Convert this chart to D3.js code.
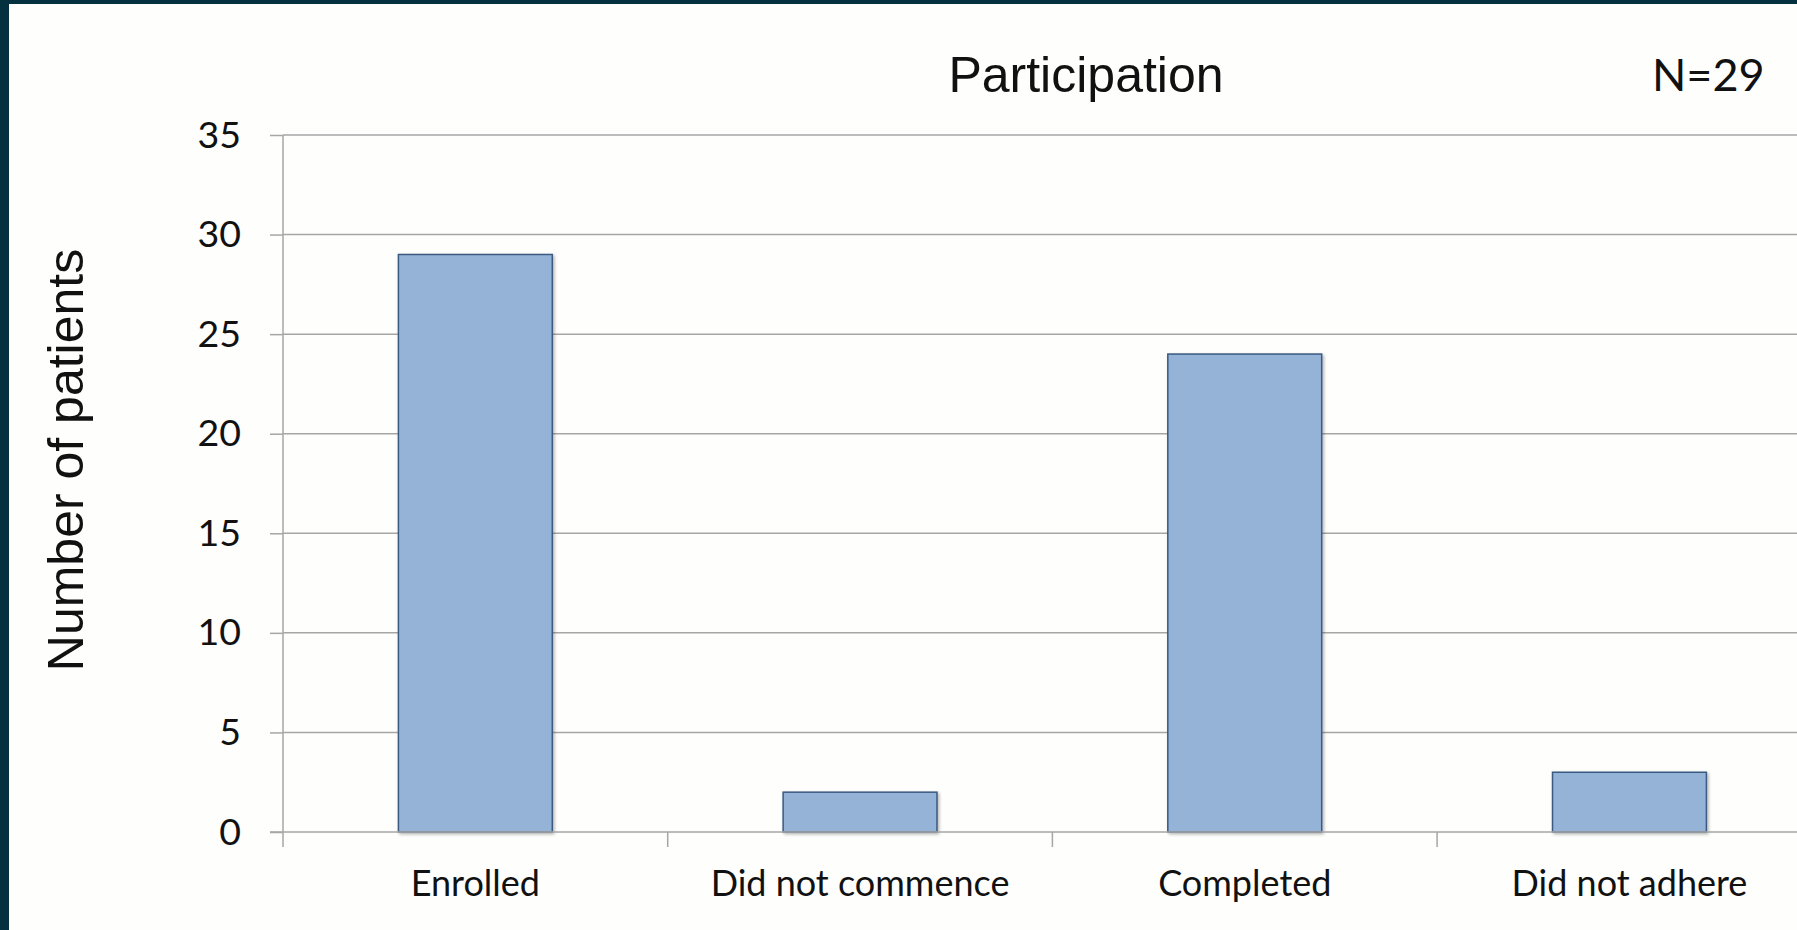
<!DOCTYPE html>
<html>
<head>
<meta charset="utf-8">
<script src="https://cdn.jsdelivr.net/npm/d3@7"></script>
<style>
  html, body { margin: 0; padding: 0; background: #fefefd; overflow: hidden; }
  svg { display: block; }
</style>
</head>
<body>
<svg id="chart" width="1797" height="930"></svg>
<script>
// Participation counts per study stage
const categories = ["Enrolled", "Did not commence", "Completed", "Did not adhere"];
const patients = [29, 2, 24, 3];
const yTicks = [0, 5, 10, 15, 20, 25, 30, 35];
const titleText = "Participation";
const sampleText = "N=29";
const yLabelText = "Number of patients";

const svg = d3.select("#chart");
const W = 1797, H = 930;

// page background and dark slide frame (top and left edges)
svg.append("rect").attr("width", W).attr("height", H).attr("fill", "#fefefd");
svg.append("rect").attr("x", 0).attr("y", 0).attr("width", W).attr("height", 4).attr("fill", "#05303f");
svg.append("rect").attr("x", 0).attr("y", 0).attr("width", 9).attr("height", H).attr("fill", "#05303f");

const plot = { left: 283, top: 135, bottom: 832, step: 384.7 };
const plotRight = plot.left + plot.step * categories.length;

const x = d3.scaleBand().domain(categories).range([plot.left, plotRight]).padding(0);
const y = d3.scaleLinear().domain([0, 35]).range([plot.bottom, plot.top]);

const gridColor = "#a6a6a6";

// horizontal gridlines
svg.append("g").selectAll("line").data(yTicks.filter(d => d > 0)).join("line")
  .attr("x1", plot.left).attr("x2", W)
  .attr("y1", d => y(d)).attr("y2", d => y(d))
  .attr("stroke", gridColor).attr("stroke-width", 1.5);

// bar shadow
const defs = svg.append("defs");
const f = defs.append("filter").attr("id", "barShadow")
  .attr("x", "-10%").attr("y", "-10%").attr("width", "130%").attr("height", "130%");
f.append("feDropShadow").attr("dx", 1.5).attr("dy", 1.5).attr("stdDeviation", 1.5)
  .attr("flood-color", "#000").attr("flood-opacity", 0.3);

// bars: 40% of each category slot, centred
const barW = x.bandwidth() * 0.4;
svg.append("g").selectAll("rect").data(categories).join("rect")
  .attr("x", d => x(d) + (x.bandwidth() - barW) / 2)
  .attr("width", barW)
  .attr("y", (d, i) => y(patients[i]))
  .attr("height", (d, i) => y(0) - y(patients[i]))
  .attr("fill", "#95b3d7")
  .attr("stroke", "#3a5a82")
  .attr("stroke-width", 1.5)
  .attr("filter", "url(#barShadow)");

// y axis
const yAxis = svg.append("g")
  .attr("transform", `translate(${plot.left},0)`)
  .call(d3.axisLeft(y).tickValues(yTicks).tickSize(13).tickPadding(29).tickSizeOuter(0));
yAxis.select(".domain").remove();
yAxis.selectAll(".tick line").attr("stroke", gridColor).attr("stroke-width", 1.5);
yAxis.selectAll(".tick text")
  .attr("font-family", "Lato, 'Open Sans', sans-serif")
  .attr("font-size", 37.5)
  .attr("fill", "#111");
// vertical axis line (runs down through the category tick length)
svg.append("line")
  .attr("x1", plot.left).attr("x2", plot.left)
  .attr("y1", plot.top).attr("y2", plot.bottom + 15)
  .attr("stroke", gridColor).attr("stroke-width", 1.5);

// x axis line
svg.append("line")
  .attr("x1", plot.left - 13).attr("x2", W)
  .attr("y1", plot.bottom).attr("y2", plot.bottom)
  .attr("stroke", gridColor).attr("stroke-width", 1.5);

// category boundary ticks
svg.append("g").selectAll("line").data(categories.slice(1)).join("line")
  .attr("x1", d => x(d)).attr("x2", d => x(d))
  .attr("y1", plot.bottom).attr("y2", plot.bottom + 15)
  .attr("stroke", gridColor).attr("stroke-width", 1.5);

// category labels
const xAxis = svg.append("g")
  .attr("transform", `translate(0,${plot.bottom})`)
  .call(d3.axisBottom(x).tickSize(0).tickPadding(38));
xAxis.select(".domain").remove();
xAxis.selectAll(".tick text")
  .attr("font-family", "Lato, 'Open Sans', sans-serif")
  .attr("font-size", 36)
  .attr("fill", "#111");

// title
svg.append("text")
  .attr("x", 1086).attr("y", 92)
  .attr("text-anchor", "middle")
  .attr("font-family", "'Liberation Sans', Arial, sans-serif")
  .attr("font-size", 50)
  .attr("fill", "#111")
  .text(titleText);

// sample size note
svg.append("text")
  .attr("x", 1652).attr("y", 91)
  .attr("font-family", "Lato, 'Open Sans', sans-serif")
  .attr("font-size", 45)
  .attr("fill", "#111")
  .text(sampleText);

// y axis title
svg.append("text")
  .attr("transform", "translate(83,460) rotate(-90)")
  .attr("text-anchor", "middle")
  .attr("font-family", "'Liberation Sans', Arial, sans-serif")
  .attr("font-size", 50)
  .attr("fill", "#111")
  .text(yLabelText);
</script>
</body>
</html>
